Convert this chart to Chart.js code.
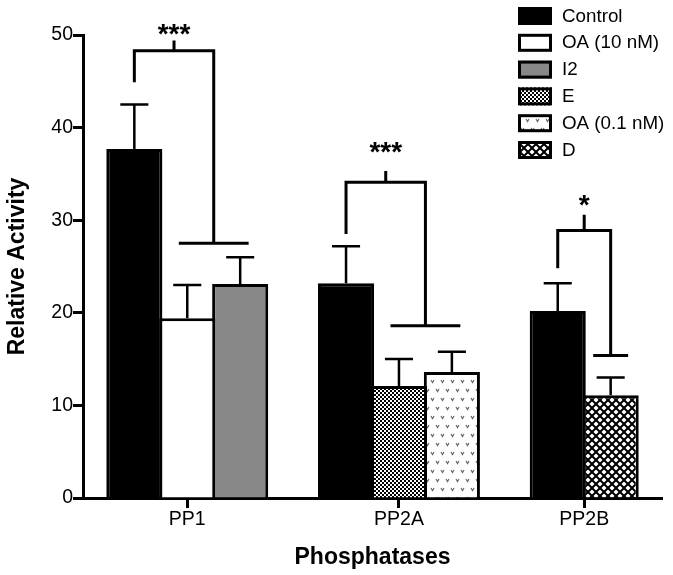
<!DOCTYPE html>
<html>
<head>
<meta charset="utf-8">
<script src="https://cdn.jsdelivr.net/npm/chart.js@4.4.0/dist/chart.umd.min.js"></script>
<style>
    html, body { margin: 0; padding: 0; background: #fff; }
    canvas { display: block; }
</style>
</head>
<body>
<canvas id="phosChart" width="673" height="575"></canvas>
<script>
/* values */
var groups = ["PP1", "PP2A", "PP2B"];
var seriesNames = ["Control", "OA (10 nM)", "I2", "E", "OA (0.1 nM)", "D"];

// series shown in each group, left to right
var groupSeries = [
    ["Control", "OA (10 nM)", "I2"],
    ["Control", "E", "OA (0.1 nM)"],
    ["Control", "D"]
];
var groupMeans = [
    [37.7, 19.4, 23.1],
    [23.2, 12.1, 13.6],
    [20.2, 11.1]
];
var groupErrors = [
    [4.8, 3.6, 2.9],
    [4.0, 2.9, 2.2],
    [3.0, 1.9]
];
var yTicks = [0, 10, 20, 30, 40, 50];

// significance brackets (levels on the y axis)
var sigLabels = ["***", "***", "*"];
var sigLeftLow = [44.9, 28.5, 24.8];
var sigTop = [48.3, 34.1, 28.9];
var sigRightLow = [27.5, 18.6, 15.4];
var sigTip = [49.4, 35.3, 30.6];
var sigStar = [50.0, 37.3, 31.6];

var FONT = '"Liberation Sans", Arial, Helvetica, sans-serif';
Chart.defaults.font.family = FONT;
Chart.defaults.color = "#000";

var canvas = document.getElementById("phosChart");
var ctx = canvas.getContext("2d");

function makePattern(w, h, paint) {
    var c = document.createElement("canvas");
    c.width = w;
    c.height = h;
    paint(c.getContext("2d"));
    return ctx.createPattern(c, "repeat");
}

// fine checker for E
var checker = makePattern(4, 4, function (g) {
    g.fillStyle = "#fff";
    g.fillRect(0, 0, 4, 4);
    g.fillStyle = "#000";
    g.fillRect(0, 0, 2, 2);
    g.fillRect(2, 2, 2, 2);
});
// little grey v marks for OA (0.1 nM)
var vmarks = makePattern(10, 18, function (g) {
    g.fillStyle = "#fff";
    g.fillRect(0, 0, 10, 18);
    g.strokeStyle = "#666";
    g.lineWidth = 1.2;
    [[1, 2], [6, 11]].forEach(function (p) {
        g.beginPath();
        g.moveTo(p[0], p[1]);
        g.lineTo(p[0] + 1.5, p[1] + 2.5);
        g.lineTo(p[0] + 3, p[1]);
        g.stroke();
    });
});
// diagonal crosshatch for D
var hatch = makePattern(8, 8, function (g) {
    g.fillStyle = "#fff";
    g.fillRect(0, 0, 8, 8);
    g.strokeStyle = "#000";
    g.lineWidth = 2;
    for (var o = -8; o <= 8; o += 8) {
        g.beginPath();
        g.moveTo(o, 0); g.lineTo(o + 8, 8);
        g.moveTo(o + 8, 0); g.lineTo(o, 8);
        g.stroke();
    }
});

var fills = ["#000", "#fff", "#888", checker, vmarks, hatch];

// one slot per bar, one empty slot between groups
var positions = [];
var slot = 1;
groupSeries.forEach(function (names) {
    positions.push(names.map(function (n, k) { return slot + k; }));
    slot += names.length + 1;
});
var groupCenters = positions.map(function (p) { return (p[0] + p[p.length - 1]) / 2; });

var datasets = seriesNames.map(function (name, s) {
    var pts = [], errs = [];
    groupSeries.forEach(function (names, g) {
        var k = names.indexOf(name);
        if (k >= 0) {
            pts.push({ x: positions[g][k], y: groupMeans[g][k] });
            errs.push(groupErrors[g][k]);
        }
    });
    return {
        label: name,
        data: pts,
        errors: errs,
        backgroundColor: fills[s],
        borderColor: "#000",
        borderWidth: 3,
        borderSkipped: "start",
        grouped: false,
        barPercentage: 1.06,
        categoryPercentage: 1.0
    };
});

var errorBars = {
    id: "errorBars",
    afterDatasetsDraw: function (chart) {
        var c = chart.ctx, y = chart.scales.y;
        c.save();
        c.strokeStyle = "#000";
        c.lineWidth = 2.5;
        chart.data.datasets.forEach(function (ds, i) {
            chart.getDatasetMeta(i).data.forEach(function (bar, j) {
                var top = y.getPixelForValue(ds.data[j].y + ds.errors[j]);
                var half = bar.width / 4;
                c.beginPath();
                c.moveTo(bar.x, bar.y);
                c.lineTo(bar.x, top);
                c.moveTo(bar.x - half, top);
                c.lineTo(bar.x + half, top);
                c.stroke();
            });
        });
        c.restore();
    }
};

var brackets = {
    id: "brackets",
    afterDraw: function (chart) {
        var c = chart.ctx, x = chart.scales.x, y = chart.scales.y;
        c.save();
        c.strokeStyle = "#000";
        c.fillStyle = "#000";
        c.lineWidth = 3;
        c.lineJoin = "miter";
        groups.forEach(function (g, i) {
            var p = positions[i];
            var treat = p.slice(1);
            var rightV = treat.reduce(function (a, b) { return a + b; }, 0) / treat.length;
            var halfSpan = 0.33 * treat.length;
            var left = x.getPixelForValue(p[0]);
            var right = x.getPixelForValue(rightV);
            var top = y.getPixelForValue(sigTop[i]);
            var low = y.getPixelForValue(sigRightLow[i]);
            var mid = (left + right) / 2;
            c.beginPath();
            c.moveTo(left, y.getPixelForValue(sigLeftLow[i]));
            c.lineTo(left, top);
            c.lineTo(right, top);
            c.lineTo(right, low);
            c.stroke();
            c.beginPath();
            c.moveTo(x.getPixelForValue(rightV - halfSpan), low);
            c.lineTo(x.getPixelForValue(rightV + halfSpan), low);
            c.moveTo(mid, top);
            c.lineTo(mid, y.getPixelForValue(sigTip[i]));
            c.stroke();
            c.font = "bold 28px " + FONT;
            c.textAlign = "center";
            c.textBaseline = "alphabetic";
            c.fillText(sigLabels[i], mid, y.getPixelForValue(sigStar[i]) + 0.3 * 28);
        });
        c.restore();
    }
};

// legend box in the top right corner
var sideLegend = {
    id: "sideLegend",
    afterDraw: function (chart) {
        var c = chart.ctx;
        var left = 518, top = 7, gap = 26.8, bw = 34, bh = 18;
        c.save();
        chart.data.datasets.forEach(function (ds, i) {
            var yy = top + i * gap;
            c.fillStyle = ds.backgroundColor;
            c.fillRect(left, yy, bw, bh);
            c.strokeStyle = "#000";
            c.lineWidth = 3;
            c.strokeRect(left + 1.5, yy + 1.5, bw - 3, bh - 3);
            c.fillStyle = "#000";
            c.font = "18.8px " + FONT;
            c.textAlign = "left";
            c.textBaseline = "middle";
            c.fillText(ds.label, left + 44, yy + bh / 2 + 0.5);
        });
        c.restore();
    }
};

var axisGrid = {
    offset: false,
    drawOnChartArea: false,
    drawTicks: true,
    tickLength: 10,
    tickWidth: 3,
    tickColor: "#000"
};

window.myBar = new Chart(ctx, {
    type: "bar",
    data: { datasets: datasets },
    options: {
        responsive: false,
        animation: false,
        devicePixelRatio: 1,
        layout: { padding: { top: 35, right: 11, bottom: 0, left: 0 } },
        plugins: {
            legend: { display: false },
            tooltip: { enabled: false }
        },
        scales: {
            x: {
                type: "linear",
                offset: false,
                bounds: "data",
                min: 0.03,
                max: 10.97,
                grid: axisGrid,
                border: { display: true, width: 3, color: "#000" },
                afterBuildTicks: function (s) {
                    s.ticks = groupCenters.map(function (v) { return { value: v }; });
                },
                afterFit: function (s) { s.height = 77; },
                ticks: {
                    autoSkip: false,
                    maxRotation: 0,
                    padding: 0,
                    color: "#000",
                    font: { size: 19.5 },
                    callback: function (v, i) { return groups[i]; }
                },
                title: {
                    display: true,
                    text: "Phosphatases",
                    color: "#000",
                    font: { size: 23, weight: "bold" },
                    padding: { top: 0, bottom: 4 }
                }
            },
            y: {
                min: 0,
                max: 50,
                grid: axisGrid,
                border: { display: true, width: 3, color: "#000" },
                afterBuildTicks: function (s) {
                    s.ticks = yTicks.map(function (v) { return { value: v }; });
                },
                afterFit: function (s) { s.width = 83; },
                ticks: {
                    padding: 0,
                    color: "#000",
                    font: { size: 19.5 }
                },
                title: {
                    display: true,
                    text: "Relative Activity",
                    color: "#000",
                    font: { size: 23, weight: "bold" },
                    padding: { top: 4, bottom: 0 }
                }
            }
        }
    },
    plugins: [errorBars, brackets, sideLegend]
});
</script>
</body>
</html>
